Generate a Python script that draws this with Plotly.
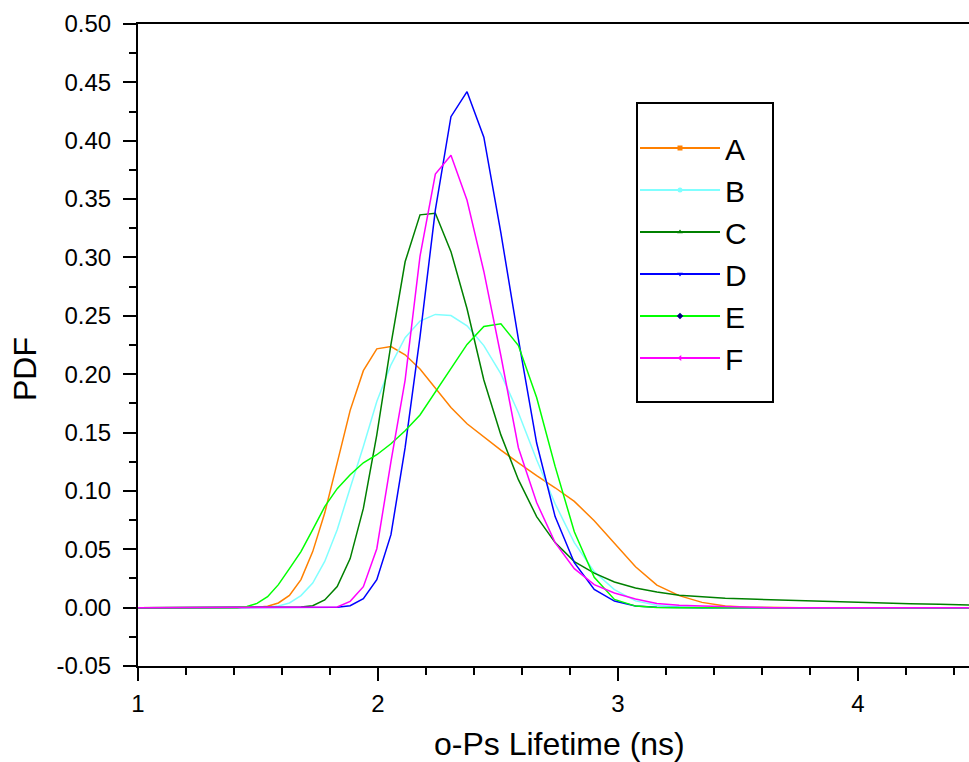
import plotly.graph_objects as go

# o-Ps lifetime grid (ns)
lifetime = [1.000, 1.029, 1.059, 1.090, 1.122, 1.155, 1.189, 1.223, 1.259, 1.296,
            1.334, 1.372, 1.413, 1.454, 1.496, 1.540, 1.585, 1.631, 1.679, 1.728,
            1.778, 1.830, 1.884, 1.939, 1.995, 2.054, 2.113, 2.175, 2.239, 2.304,
            2.371, 2.441, 2.512, 2.585, 2.661, 2.738, 2.818, 2.901, 2.985, 3.073,
            3.162, 3.255, 3.350, 3.447, 3.548, 3.652, 3.758, 3.868, 3.981, 4.097,
            4.217, 4.340, 4.467, 4.597]

pdf_A = [0, 0, 0, 0, 0, 0, 0, 0, 0, 0,
         0, 0, 0, 0, 0.0004, 0.0012, 0.004, 0.0105, 0.024, 0.048,
         0.081, 0.124, 0.169, 0.203, 0.2217, 0.2237, 0.2166, 0.2045, 0.188, 0.1715,
         0.1575, 0.146, 0.135, 0.124, 0.113, 0.1027, 0.091, 0.0745, 0.0548, 0.035,
         0.0193, 0.0103, 0.0045, 0.0015, 0.0004, 0, 0, 0, 0, 0,
         0, 0, 0, 0]

pdf_B = [0, 0, 0, 0, 0, 0, 0, 0, 0, 0,
         0, 0, 0, 0, 0, 0.0004, 0.0015, 0.004, 0.0103, 0.0211,
         0.0396, 0.0668, 0.1025, 0.138, 0.1766, 0.208, 0.2312, 0.2455, 0.2512, 0.2502,
         0.2414, 0.2245, 0.2003, 0.167, 0.1267, 0.089, 0.0557, 0.0308, 0.0154, 0.0058,
         0.002, 0.0006, 0.0002, 0, 0, 0, 0, 0, 0, 0,
         0, 0, 0, 0]

pdf_C = [0, 0, 0, 0, 0, 0, 0, 0, 0, 0,
         0, 0, 0, 0, 0, 0, 0, 0, 0.0005, 0.0017,
         0.0066, 0.018, 0.042, 0.085, 0.148, 0.2255, 0.2963, 0.3365, 0.3378, 0.305,
         0.256, 0.195, 0.148, 0.1096, 0.078, 0.0557, 0.0394, 0.0295, 0.022, 0.0168,
         0.0134, 0.0107, 0.0092, 0.0081, 0.0073, 0.0066, 0.0064, 0.0058, 0.005, 0.0042,
         0.0034, 0.0028, 0.0022, 0.0018]

pdf_D = [0, 0, 0, 0, 0, 0, 0, 0, 0, 0,
         0, 0, 0, 0, 0, 0, 0, 0, 0, 0,
         0, 0.0003, 0.0017, 0.0077, 0.024, 0.0625, 0.137, 0.232, 0.3408, 0.4206,
         0.442, 0.403, 0.321, 0.23, 0.141, 0.078, 0.0385, 0.0156, 0.0056, 0.0014,
         0.0004, 0, 0, 0, 0, 0, 0, 0, 0, 0,
         0, 0, 0, 0]

pdf_E = [0, 0, 0, 0, 0, 0, 0, 0, 0, 0,
         0, 0, 0, 0.001, 0.0036, 0.0094, 0.0197, 0.0334, 0.048, 0.0668,
         0.0865, 0.1019, 0.1139, 0.1241, 0.131, 0.1404, 0.1515, 0.165, 0.185, 0.2055,
         0.2255, 0.2408, 0.2432, 0.2245, 0.18, 0.121, 0.065, 0.026, 0.007, 0.0013,
         0.0002, 0, 0, 0, 0, 0, 0, 0, 0, 0,
         0, 0, 0, 0]

pdf_F = [0, 0, 0, 0, 0, 0, 0, 0, 0, 0,
         0, 0, 0, 0, 0, 0, 0, 0, 0, 0,
         0, 0.0006, 0.0054, 0.018, 0.0505, 0.125, 0.195, 0.301, 0.3715, 0.3875,
         0.349, 0.288, 0.2158, 0.137, 0.09, 0.0557, 0.0334, 0.0197, 0.0126, 0.0074,
         0.0036, 0.0021, 0.0013, 0.0007, 0.0003, 0, 0, 0, 0, 0,
         0, 0, 0, 0]

series_names = ["A", "B", "C", "D", "E", "F"]
series_values = [pdf_A, pdf_B, pdf_C, pdf_D, pdf_E, pdf_F]
line_colors = ["#FF8000", "#80FFFF", "#008000", "#0000FF", "#00FF00", "#FF00FF"]
marker_colors = ["#FF8000", "#80FFFF", "#008000", "#0000FF", "#000080", "#FF00FF"]
marker_symbols = ["square", "circle", "triangle-up", "triangle-down", "diamond", "triangle-left"]

y_tick_vals = [-0.05, 0.00, 0.05, 0.10, 0.15, 0.20, 0.25, 0.30, 0.35, 0.40, 0.45, 0.50]
y_tick_text = ["-0.05", "0.00", "0.05", "0.10", "0.15", "0.20", "0.25", "0.30", "0.35", "0.40", "0.45", "0.50"]
x_tick_vals = [1, 2, 3, 4]
x_tick_text = ["1", "2", "3", "4"]

FONT = "Liberation Sans, Arial, sans-serif"

fig = go.Figure()
for name, vals, lc in zip(series_names, series_values, line_colors):
    fig.add_trace(go.Scatter(x=lifetime, y=vals, mode="lines", name=name,
                             line=dict(color=lc, width=1.5), showlegend=False,
                             hoverinfo="x+y+name"))
# legend entries (line + small symbol, as in the original legend)
for name, lc, mc, sym in zip(series_names, line_colors, marker_colors, marker_symbols):
    fig.add_trace(go.Scatter(x=[None], y=[None], mode="lines+markers", name=name,
                             line=dict(color=lc, width=2),
                             marker=dict(color=mc, symbol=sym, size=5),
                             showlegend=True))

W, H = 969, 762
L, R, T, B = 138, 0, 24, 96
PW, PH = W - L - R, H - T - B

def px_x(p):
    return (p - L) / PW

def px_y(p):
    return (H - B - p) / PH

fig.update_layout(
    width=W, height=H,
    margin=dict(l=L, r=R, t=T, b=B, pad=0),
    paper_bgcolor="white", plot_bgcolor="white",
    font=dict(family=FONT, color="black", size=24),
    showlegend=True,
    legend=dict(x=px_x(635), y=px_y(122),
                xanchor="left", yanchor="top",
                borderwidth=0, bgcolor="rgba(0,0,0,0)",
                font=dict(family=FONT, size=30, color="black"),
                itemwidth=80, tracegroupgap=0),
    shapes=[dict(type="rect", xref="paper", yref="paper",
                 x0=px_x(637), x1=px_x(773), y0=px_y(402), y1=px_y(103),
                 line=dict(color="black", width=2), fillcolor="rgba(0,0,0,0)",
                 layer="above")],
    xaxis=dict(range=[1, 1 + PW / 240.0],
               tickmode="array", tickvals=x_tick_vals, ticktext=x_tick_text,
               ticks="outside", ticklen=13, tickwidth=2, tickcolor="black",
               showline=True, linewidth=2, linecolor="black", mirror=True,
               showgrid=False, zeroline=False,
               tickfont=dict(family=FONT, size=24),
               ticklabelstandoff=2,
               minor=dict(tickmode="linear", tick0=1, dtick=0.2, ticks="outside",
                          ticklen=7, tickwidth=2, tickcolor="black", showgrid=False)),
    yaxis=dict(range=[-0.05, 0.5],
               tickmode="array", tickvals=y_tick_vals, ticktext=y_tick_text,
               ticks="outside", ticklen=13, tickwidth=2, tickcolor="black",
               showline=True, linewidth=2, linecolor="black", mirror=False,
               showgrid=False, zeroline=False,
               tickfont=dict(family=FONT, size=24),
               ticklabelstandoff=7,
               minor=dict(tickmode="linear", tick0=0, dtick=0.025, ticks="outside",
                          ticklen=7, tickwidth=2, tickcolor="black", showgrid=False)),
    annotations=[
        dict(text="PDF", xref="paper", yref="paper",
             x=px_x(25), y=px_y(369),
             xanchor="center", yanchor="middle", textangle=-90, showarrow=False,
             font=dict(family=FONT, size=32, color="black")),
        dict(text="o-Ps Lifetime (ns)", xref="paper", yref="paper",
             x=px_x(559), y=px_y(744),
             xanchor="center", yanchor="middle", showarrow=False,
             font=dict(family=FONT, size=32, color="black")),
    ],
)

fig.write_html("out.html")
